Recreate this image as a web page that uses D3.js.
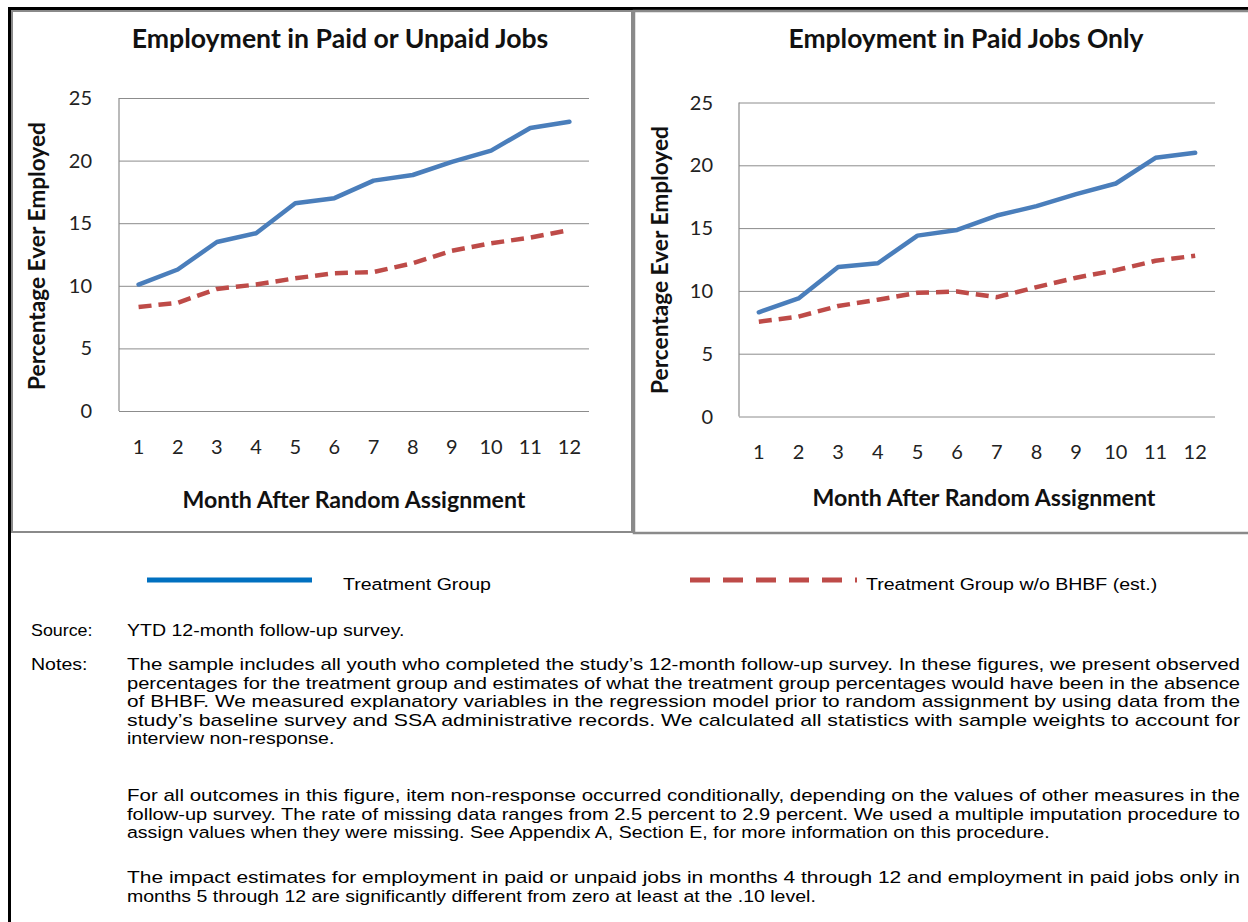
<!DOCTYPE html>
<html>
<head>
<meta charset="utf-8">
<script src="https://cdn.jsdelivr.net/npm/d3@7"></script>
<style>
  html, body { margin: 0; padding: 0; background: #fff; }
  svg { display: block; }
</style>
</head>
<body>
<svg id="chart" width="1248" height="922"></svg>
<script>
// ---------------- DATA ----------------
const months = ["1","2","3","4","5","6","7","8","9","10","11","12"];
const yTicks = [0, 5, 10, 15, 20, 25];
const paidOrUnpaidTreatment = [10.1, 11.3, 13.5, 14.2, 16.6, 17.0, 18.4, 18.85, 19.9, 20.8, 22.6, 23.1];
const paidOrUnpaidNoBHBF   = [8.3, 8.65, 9.75, 10.1, 10.6, 11.0, 11.1, 11.8, 12.8, 13.4, 13.85, 14.45];
const paidOnlyTreatment    = [8.3, 9.4, 11.9, 12.2, 14.4, 14.85, 16.0, 16.75, 17.7, 18.55, 20.6, 21.0];
const paidOnlyNoBHBF       = [7.55, 7.95, 8.8, 9.3, 9.85, 9.95, 9.5, 10.3, 11.05, 11.65, 12.4, 12.8];
const seriesNames = ["Treatment Group", "Treatment Group w/o BHBF (est.)"];
const panelTitles = ["Employment in Paid or Unpaid Jobs", "Employment in Paid Jobs Only"];
const yAxisTitle = "Percentage Ever Employed";
const xAxisTitle = "Month After Random Assignment";

const noteParagraphs = [
  ["The sample includes all youth who completed the study\u2019s 12-month follow-up survey. In these figures, we present observed",
   "percentages for the treatment group and estimates of what the treatment group percentages would have been in the absence",
   "of BHBF. We measured explanatory variables in the regression model prior to random assignment by using data from the",
   "study\u2019s baseline survey and SSA administrative records. We calculated all statistics with sample weights to account for",
   "interview non-response."],
  ["For all outcomes in this figure, item non-response occurred conditionally, depending on the values of other measures in the",
   "follow-up survey. The rate of missing data ranges from 2.5 percent to 2.9 percent. We used a multiple imputation procedure to",
   "assign values when they were missing. See Appendix A, Section E, for more information on this procedure."],
  ["The impact estimates for employment in paid or unpaid jobs in months 4 through 12 and employment in paid jobs only in",
   "months 5 through 12 are significantly different from zero at least at the .10 level."]
];

// ---------------- STYLE / LAYOUT ----------------
const BLUE = "#4A7EBB", RED = "#BE4B48", GRID = "#8C8C8C";
const chartFont = "Lato, 'Open Sans', sans-serif";
const textFont = "'Liberation Sans', Arial, sans-serif";
const SX = 1.15; // horizontal stretch of the report's body text

const svg = d3.select("#chart");

// outer border
svg.append("line").attr("x1", 9).attr("x2", 1248).attr("y1", 8.5).attr("y2", 8.5)
  .attr("stroke", "#000").attr("stroke-width", 3);
svg.append("line").attr("x1", 9.5).attr("x2", 9.5).attr("y1", 7).attr("y2", 922)
  .attr("stroke", "#000").attr("stroke-width", 3);

// panel boxes
svg.append("rect").attr("x", 12).attr("y", 11).attr("width", 620).attr("height", 521)
  .attr("fill", "#fff").attr("stroke", "#8a8a8a").attr("stroke-width", 2);
svg.append("rect").attr("x", 634).attr("y", 11).attr("width", 620).attr("height", 522)
  .attr("fill", "#fff").attr("stroke", "#8a8a8a").attr("stroke-width", 2.5);

function fitText(sel, target, base) {
  sel.attr("font-size", base);
  const w = sel.node().getComputedTextLength();
  sel.attr("font-size", base * target / w);
}

const panels = [
  { title: panelTitles[0], t: paidOrUnpaidTreatment, n: paidOrUnpaidNoBHBF,
    x0: 119, x1: 589, y0: 98, y1: 411, titleX: 340, titleY: 48, titleW: 417,
    yLabX: 92, yTitleX: 39, yTitleY: 256, xLabY: 454, xTitleX: 354, xTitleY: 508 },
  { title: panelTitles[1], t: paidOnlyTreatment, n: paidOnlyNoBHBF,
    x0: 739, x1: 1215, y0: 102.5, y1: 416.5, titleX: 966, titleY: 48, titleW: 355,
    yLabX: 713, yTitleX: 662, yTitleY: 260, xLabY: 459, xTitleX: 984, xTitleY: 506 }
];

panels.forEach(p => {
  const g = svg.append("g");
  const x = d3.scaleBand().domain(months).range([p.x0, p.x1]).padding(0);
  const y = d3.scaleLinear().domain([0, 25]).range([p.y1, p.y0]);

  const grid = g.append("g").attr("transform", `translate(${p.x0},0)`)
    .call(d3.axisLeft(y).tickValues(yTicks).tickSize(-(p.x1 - p.x0)).tickFormat(""));
  grid.select(".domain").remove();
  grid.selectAll(".tick line").attr("stroke", GRID).attr("stroke-width", 1);

  g.append("line").attr("x1", p.x0).attr("x2", p.x0).attr("y1", y(25)).attr("y2", y(0))
    .attr("stroke", GRID).attr("stroke-width", 1.2);

  g.selectAll(".ylab").data(yTicks).enter().append("text")
    .attr("x", p.yLabX).attr("y", d => y(d) + 7)
    .attr("text-anchor", "end").attr("font-family", chartFont).attr("font-size", 20)
    .attr("fill", "#222").text(d => d);

  g.selectAll(".xlab").data(months).enter().append("text")
    .attr("x", d => x(d) + x.bandwidth() / 2).attr("y", p.xLabY)
    .attr("text-anchor", "middle").attr("font-family", chartFont).attr("font-size", 20)
    .attr("fill", "#222").text(d => d);

  const tt = g.append("text").attr("x", p.titleX).attr("y", p.titleY)
    .attr("text-anchor", "middle").attr("font-family", chartFont).attr("font-weight", "bold")
    .attr("fill", "#111").text(p.title);
  fitText(tt, p.titleW, 22);

  const yt = g.append("text").attr("transform", `translate(${p.yTitleX + 6},${p.yTitleY}) rotate(-90)`)
    .attr("text-anchor", "middle").attr("font-family", chartFont).attr("font-weight", "bold")
    .attr("fill", "#111").text(yAxisTitle);
  fitText(yt, 268, 17);

  const xt = g.append("text").attr("x", p.xTitleX).attr("y", p.xTitleY)
    .attr("text-anchor", "middle").attr("font-family", chartFont).attr("font-weight", "bold")
    .attr("fill", "#111").text(xAxisTitle);
  fitText(xt, 343, 18);

  const line = d3.line().x((d, i) => x(months[i]) + x.bandwidth() / 2).y(d => y(d));
  g.append("path").datum(p.n).attr("d", line).attr("fill", "none")
    .attr("stroke", RED).attr("stroke-width", 4.5).attr("stroke-dasharray", "13,7")
    .attr("stroke-linejoin", "round");
  g.append("path").datum(p.t).attr("d", line).attr("fill", "none")
    .attr("stroke", BLUE).attr("stroke-width", 4.5).attr("stroke-linejoin", "round")
    .attr("stroke-linecap", "round");
});

// stretched body text helper
function bodyText(x, y, str, size) {
  return svg.append("text").attr("transform", `translate(${x},${y}) scale(${SX},1)`)
    .attr("font-family", textFont).attr("font-size", size || 17).attr("fill", "#000").text(str);
}

// ---------------- LEGEND ----------------
svg.append("line").attr("x1", 147).attr("x2", 312).attr("y1", 580).attr("y2", 580)
  .attr("stroke", "#0070C0").attr("stroke-width", 5);
bodyText(343, 590, seriesNames[0], 17);
svg.append("line").attr("x1", 690).attr("x2", 857).attr("y1", 580).attr("y2", 580)
  .attr("stroke", RED).attr("stroke-width", 5).attr("stroke-dasharray", "20,13");
bodyText(866, 590, seriesNames[1], 17);

// ---------------- SOURCE / NOTES ----------------
svg.append("text").attr("transform", "translate(31,636) scale(1.05,1)")
  .attr("font-family", textFont).attr("font-size", 17).text("Source:");
bodyText(127, 636, "YTD 12-month follow-up survey.");
bodyText(31, 670, "Notes:");

const paraStarts = [670, 801, 883];
const lineH = 18.5;
const leftX = 127, rightX = 1240;

noteParagraphs.forEach((para, pi) => {
  para.forEach((ln, li) => {
    const yy = paraStarts[pi] + li * lineH;
    const last = li === para.length - 1;
    if (last) {
      bodyText(leftX, yy, ln);
    } else {
      svg.append("text").attr("x", leftX).attr("y", yy)
        .attr("font-family", textFont).attr("font-size", 17).attr("fill", "#000")
        .attr("textLength", rightX - leftX).attr("lengthAdjust", "spacingAndGlyphs")
        .text(ln);
    }
  });
});
</script>
</body>
</html>
